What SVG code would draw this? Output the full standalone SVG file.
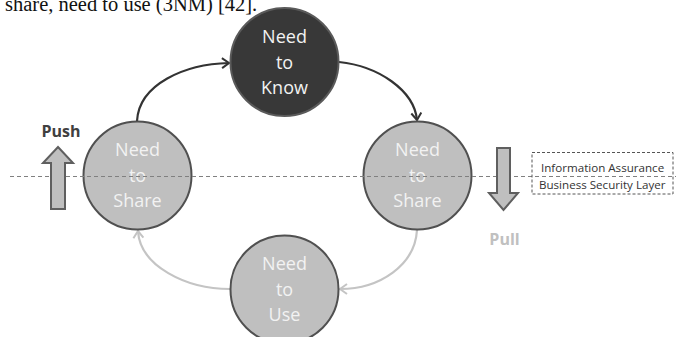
<svg xmlns="http://www.w3.org/2000/svg" width="676" height="337" viewBox="0 0 676 337">
<defs>
<style>
.lbl{font-family:"Open Sans","Liberation Sans",sans-serif;font-size:18px;text-anchor:middle}
.dark{fill:#383838;stroke:#5a5a5a;stroke-width:2}
.grey{fill:#bfbfbf;stroke:#505050;stroke-width:2}
.conn{fill:none;stroke-width:2.2}
.blk{stroke:#333333}
.lt{stroke:#c4c4c4}
.fat{fill:#bfbfbf;stroke:#5f5f5f;stroke-width:2;stroke-linejoin:miter}
.small{font-family:"Open Sans","Liberation Sans",sans-serif;font-size:11.6px;fill:#333333}
.bold{font-family:"Open Sans","Liberation Sans",sans-serif;font-size:16px;font-weight:bold;text-anchor:middle}
</style>
<marker id="ahDark" viewBox="0 0 12 12" refX="10" refY="6" markerWidth="12" markerHeight="12" markerUnits="userSpaceOnUse" orient="auto">
<polyline points="3,1 10,6 3,11" fill="none" stroke="#333333" stroke-width="2"/>
</marker>
<marker id="ahLight" viewBox="0 0 12 12" refX="10" refY="6" markerWidth="12" markerHeight="12" markerUnits="userSpaceOnUse" orient="auto">
<polyline points="3,1 10,6 3,11" fill="none" stroke="#c4c4c4" stroke-width="2"/>
</marker>
</defs>
<rect width="676" height="337" fill="#ffffff"/>
<text x="5" y="11" font-family="Liberation Serif, serif" font-size="20.5" fill="#111111">share, need to use (3NM) [42].</text>

<g id="connectors">
<path class="conn blk" d="M137,121 C139,84 185,64 229,63" marker-end="url(#ahDark)"/>
<path class="conn blk" d="M339,62 C378,66 414,90 417,120" marker-end="url(#ahDark)"/>
<path class="conn lt" d="M417,230 C415,265 380,289 340,289" marker-end="url(#ahLight)"/>
<path class="conn lt" d="M230,289 C186,289 140,266 138,231" marker-end="url(#ahLight)"/>
</g>

<g id="need-to-know">
<circle class="dark" cx="284.5" cy="62" r="54"/>
<text class="lbl" fill="#f2f2f2"><tspan x="284.5" y="43">Need</tspan><tspan x="284.5" y="68.5">to</tspan><tspan x="284.5" y="94">Know</tspan></text>
</g>
<g id="need-to-share-left">
<circle class="grey" cx="137.5" cy="175.5" r="54"/>
<text class="lbl" fill="#f2f2f2"><tspan x="137.5" y="156">Need</tspan><tspan x="137.5" y="181.5">to</tspan><tspan x="137.5" y="207">Share</tspan></text>
</g>
<g id="need-to-share-right">
<circle class="grey" cx="417.5" cy="175.5" r="54"/>
<text class="lbl" fill="#f2f2f2"><tspan x="417.5" y="156">Need</tspan><tspan x="417.5" y="181.5">to</tspan><tspan x="417.5" y="207">Share</tspan></text>
</g>
<g id="need-to-use">
<circle class="grey" cx="284.5" cy="289.5" r="54"/>
<text class="lbl" fill="#f2f2f2"><tspan x="284.5" y="270">Need</tspan><tspan x="284.5" y="295.5">to</tspan><tspan x="284.5" y="321">Use</tspan></text>
</g>

<g id="layer-line">
<line x1="10" y1="176.5" x2="676" y2="176.5" stroke="#808080" stroke-width="1" stroke-dasharray="4,3"/>
</g>

<g id="push">
<polygon class="fat" points="58,147 73,163 65,163 65,209 51,209 51,163 43,163"/>
<text class="bold" x="61" y="137" fill="#404040">Push</text>
</g>
<g id="pull">
<polygon class="fat" points="497,148 510,148 510,193 518,193 503.5,210 489,193 497,193"/>
<text class="bold" x="504.5" y="245" fill="#c0c0c0">Pull</text>
</g>

<g id="layer-box">
<rect x="532" y="152.5" width="141" height="41.5" fill="none" stroke="#555555" stroke-width="1" stroke-dasharray="3,2"/>
<text class="small" x="541" y="172">Information  Assurance</text>
<text class="small" x="539" y="189">Business Security Layer</text>
</g>
</svg>
